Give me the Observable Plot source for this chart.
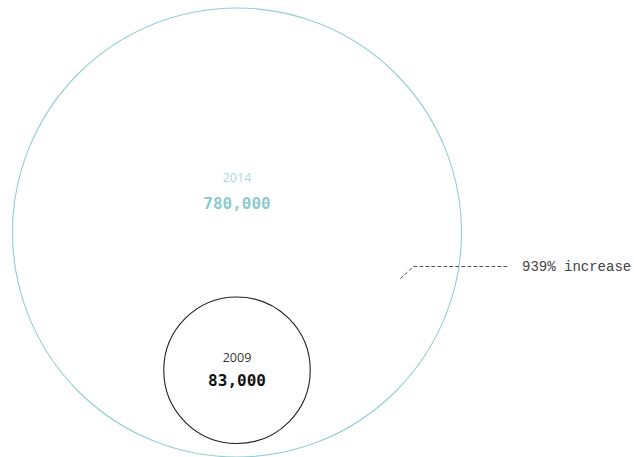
<!DOCTYPE html>
<html>
<head>
<meta charset="utf-8">
<script src="https://cdn.jsdelivr.net/npm/d3@7"></script>
<script src="https://cdn.jsdelivr.net/npm/@observablehq/plot@0.6"></script>
<style>
  html, body { margin: 0; padding: 0; background: #fff; }
  svg { display: block; }
</style>
</head>
<body>
<div id="chart"></div>
<script>
// ---- data ----
const years = ["2009", "2014"];
const values = [83000, 780000];
const valueLabels = ["83,000", "780,000"];
const annotationText = "939% increase";

// ---- styles / layout ----
const strokeColors = ["#222222", "#93cfcf"];
const yearColors = ["#333333", "#acd9d9"];
const valueColors = ["#111111", "#8ecaca"];
const MONO = "'Liberation Mono', 'DejaVu Sans Mono', monospace";
const MONO_BOLD = "'DejaVu Sans Mono', monospace";
const SANS = "'Open Sans', 'DejaVu Sans', sans-serif";
const W = 634, H = 457;
const R_MAX = 224.5;
const CX = 236.5, BIG_CY = 232;

const rScale = d3.scaleSqrt().domain([0, d3.max(values)]).range([0, R_MAX]);

const circles = years.map((y, i) => ({
  year: y,
  value: values[i],
  label: valueLabels[i],
  stroke: strokeColors[i],
  yearFill: yearColors[i],
  valueFill: valueColors[i]
}));
// layout: largest circle centred, smaller circle sitting near the bottom inside it
circles.forEach(d => {
  const r = rScale(d.value);
  const isBig = d.value === d3.max(values);
  d.cx = CX;
  d.cy = isBig ? BIG_CY : BIG_CY + R_MAX - r - 13.5;
  d.yearY = isBig ? d.cy - 55 : d.cy - 12.5;
  d.valueY = isBig ? d.cy - 28.5 : d.cy + 11;
});

const big = circles.find(d => d.value === d3.max(values));
const leader = [
  {x: big.cx + 163.5, y: big.cy + 46},
  {x: big.cx + 176.5, y: big.cy + 34},
  {x: big.cx + 272, y: big.cy + 34}
];

const chart = Plot.plot({
  width: W,
  height: H,
  margin: 0,
  x: {type: "identity", axis: null},
  y: {type: "identity", axis: null},
  r: {type: "sqrt", domain: [0, d3.max(values)], range: [0, R_MAX]},
  marks: [
    Plot.dot(circles, {
      x: "cx", y: "cy", r: "value",
      stroke: d => d.stroke, fill: "none", strokeWidth: 1.1
    }),
    Plot.text(circles, {
      x: "cx", y: "yearY", text: "year",
      fill: d => d.yearFill, fontSize: 12.5, fontFamily: SANS
    }),
    Plot.text(circles, {
      x: "cx", y: "valueY", text: "label",
      fill: d => d.valueFill, fontSize: 16, fontWeight: "bold", fontFamily: MONO_BOLD
    }),
    Plot.line(leader, {
      x: "x", y: "y", stroke: "#555", strokeWidth: 1, strokeDasharray: "3,3"
    }),
    Plot.text([annotationText], {
      x: () => leader[2].x + 13, y: () => leader[2].y,
      text: d => d, textAnchor: "start",
      fill: "#444", fontSize: 14, fontFamily: MONO
    })
  ]
});
document.getElementById("chart").appendChild(chart);
</script>
</body>
</html>
